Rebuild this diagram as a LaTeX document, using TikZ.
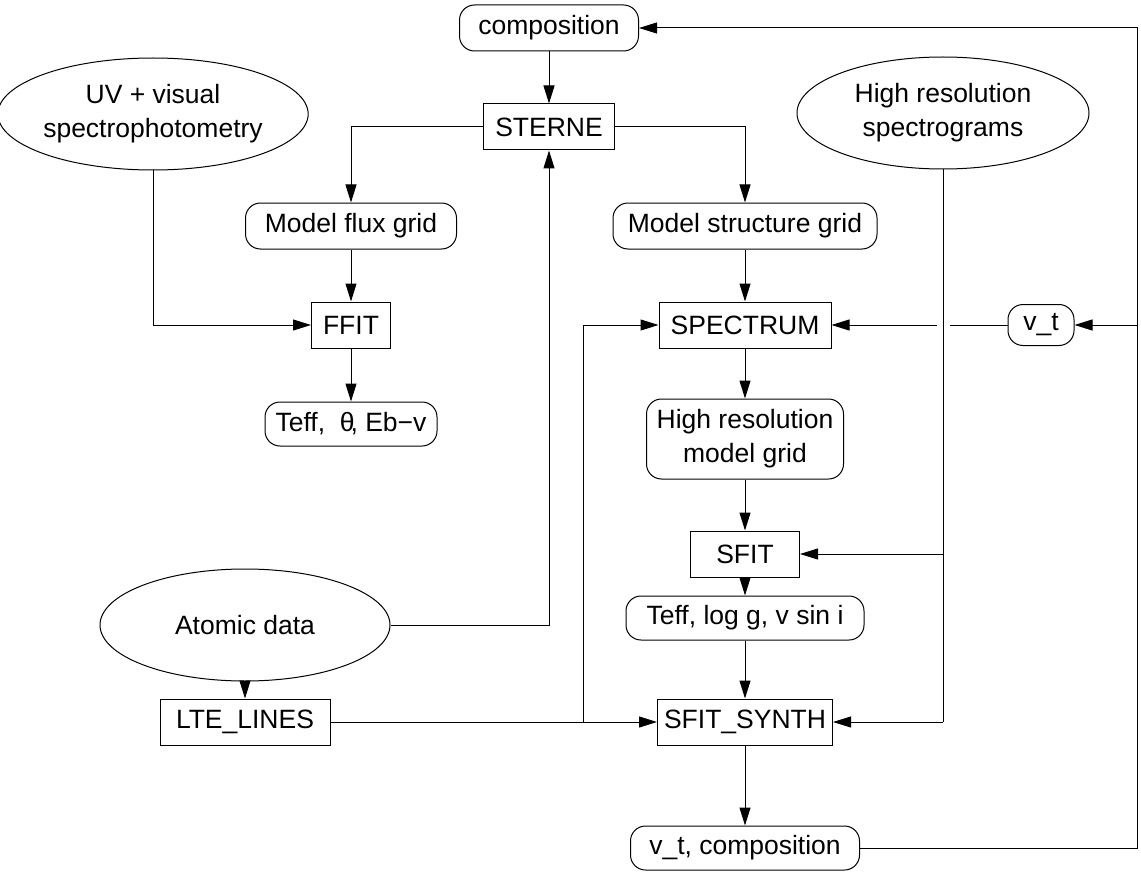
\documentclass[tikz,border=0pt]{standalone}
\usepackage{fontspec}
\setmainfont{Liberation Sans}
\usetikzlibrary{arrows.meta,shapes.geometric}
\begin{document}
\begin{tikzpicture}[x=1pt,y=-1pt,
  every node/.style={font=\fontsize{26.5}{34}\selectfont, inner sep=0pt, align=center},
  boxr/.style={draw, line width=1pt, minimum height=46pt},
  boxround/.style={draw, line width=1pt, rounded corners=15pt, minimum height=46pt},
  oval/.style={draw, line width=1pt, ellipse, minimum width=290pt, minimum height=112pt},
  conn/.style={line width=1pt},
  arr/.style={line width=1pt, -{Triangle[length=18pt,width=11pt]}}]
\fill[white] (0,0) rectangle (1141,872);
\useasboundingbox (0,0) rectangle (1141,872);
% nodes
\node[boxround, minimum width=179pt] (comp) at (549,28) {composition};
\node[boxr, minimum width=131pt] (sterne) at (549,127) {STERNE};
\node[oval] (uv) at (153,114) {UV + visual\\spectrophotometry};
\node[oval, minimum width=292pt] (hrs) at (943,113) {High resolution\\spectrograms};
\node[boxround, minimum width=211pt] (mfg) at (351,226) {Model flux grid};
\node[boxround, minimum width=264pt] (msg) at (745,226) {Model structure grid};
\node[boxr, minimum width=79pt] (ffit) at (351,325) {FFIT};
\node[boxr, minimum width=172pt] (spectrum) at (745,325) {SPECTRUM};
\node[boxround, minimum width=66pt, minimum height=41pt] (vt) at (1041,325) {v\_t};
\node[boxround, minimum width=172pt, minimum height=44pt] (teb) at (351,424) {Teff,\ \ θ\kern-4pt, Eb−v};
\node[boxround, minimum width=197pt, minimum height=80pt] (hrmg) at (745,439) {High resolution\\model grid};
\node[boxr, minimum width=109pt] (sfit) at (745,554) {SFIT};
\node[boxround, minimum width=238pt, minimum height=44pt] (tlv) at (745,618) {Teff, log g, v sin i};
\node[oval] (atomic) at (245,625) {Atomic data};
\node[boxr, minimum width=170pt] (lte) at (245,722) {LTE\_LINES};
\node[boxr, minimum width=175pt] (synth) at (745,722) {SFIT\_SYNTH};
\node[boxround, minimum width=229pt, minimum height=44pt] (vtc) at (745,848) {v\_t, composition};
\coordinate (rx) at (1137,0);
\coordinate (jx) at (583,0);
% connectors
\draw[arr] (comp.south) -- (sterne.north);
\draw[arr] (sterne.west) -| (mfg.north);
\draw[arr] (sterne.east) -| (msg.north);
\draw[arr] (mfg.south) -- (ffit.north);
\draw[arr] (uv.south) |- (ffit.west);
\draw[arr] (ffit.south) -- (teb.north);
\draw[arr] (msg.south) -- (spectrum.north);
\draw[arr] (spectrum.south) -- (hrmg.north);
\draw[arr] (hrmg.south) -- (sfit.north);
\draw[arr] (sfit.south) -- (tlv.north);
\draw[arr] (tlv.south) -- (synth.north);
\draw[arr] (synth.south) -- (vtc.north);
\draw[arr] (atomic.east) -| (sterne.south);
\draw[arr] (atomic.south) -- (lte.north);
\draw[arr] (lte.east) -- (synth.west);
\draw[arr] (jx |- lte.east) |- (spectrum.west);
\draw[conn] (hrs.south) -- (hrs.south |- synth.east);
\draw[arr] (hrs.south |- sfit.east) -- (sfit.east);
\draw[arr] (hrs.south |- synth.east) -- (synth.east);
\draw[arr] (vtc.east) -| (rx |- comp.east) -- (comp.east);
\draw[arr] (rx |- vt.east) -- (vt.east);
\draw[conn] (vt.west) -- ([xshift=6.5pt]hrs.south |- vt.west);
\draw[arr] ([xshift=-6.5pt]hrs.south |- spectrum.east) -- (spectrum.east);
\end{tikzpicture}
\end{document}
